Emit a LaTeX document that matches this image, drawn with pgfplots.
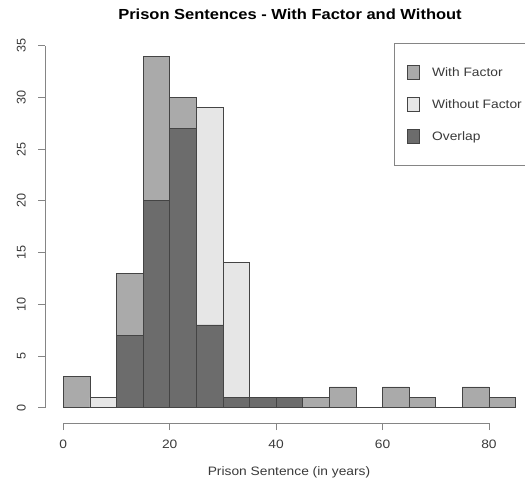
\documentclass[border=0pt]{standalone}
\usepackage{pgfplots}
\pgfplotsset{compat=1.18}
\usepackage{fontspec}
\setmainfont{Liberation Sans}[FakeStretch=1.13]
\newfontfamily\rotfont{Liberation Sans}
\definecolor{withc}{HTML}{AAAAAA}
\definecolor{withoutc}{HTML}{E6E6E6}
\definecolor{overc}{HTML}{6C6C6C}
\definecolor{edgec}{HTML}{444444}
\definecolor{axisc}{HTML}{858585}
\definecolor{textc}{HTML}{3A3A3A}
\newcommand\labfont{\fontsize{12.2bp}{14bp}\selectfont}
\pgfplotsset{
  rbar/.style={ybar, bar width=5, bar shift=0pt, draw=edgec, line width=0.8bp,
    legend image code/.code={\draw[##1, line width=0.8bp] (0bp,-7bp) rectangle (12bp,7bp);}},
}
\begin{document}
\begin{tikzpicture}
\path[use as bounding box] (0,0) rectangle (525bp,481bp);
\begin{axis}[
  at={(45bp,57.8bp)}, anchor=south west,
  scale only axis, width=480bp, height=391.5bp,
  xmin=-3.44, xmax=86.77, ymin=-1.5, ymax=36.35,
  axis lines*=left, axis line style={draw=none},
  clip=false,
  xtick={0,20,40,60,80}, ytick={0,5,...,35},
  tick align=outside, major tick length=7bp,
  tick style={draw=axisc, line width=0.8bp},
  /pgf/number format/assume math mode=true,
  ticklabel style={font=\labfont, text=textc, inner sep=0pt},
  xticklabel style={anchor=north, yshift=-10bp},
  yticklabel style={font=\rotfont\fontsize{12.6bp}{14bp}\selectfont, xshift=-12bp, rotate=90, anchor=south},
  title={Prison Sentences - With Factor and Without},
  title style={at={(axis description cs:0.5,1)}, anchor=base, inner sep=0pt, yshift=6bp, xshift=5bp,
    font=\bfseries\fontsize{14.6bp}{17bp}\selectfont, text=black},
  xlabel={Prison Sentence (in years)},
  xlabel style={at={(axis description cs:0.5,0)}, anchor=base, inner sep=0pt, yshift=-52bp, xshift=4bp,
    font=\labfont, text=textc},
  legend cell align=left,
  legend style={at={(0.727,0.971)}, anchor=north west, draw=axisc, line width=0.8bp, fill=white,
    inner xsep=13bp, inner ysep=22bp, row sep=17bp, column sep=12bp,
    font=\labfont, text=textc, nodes={inner sep=0pt}},
]
\addplot[rbar, fill=withc] coordinates {
  (2.5,3) (7.5,0) (12.5,13) (17.5,34) (22.5,30) (27.5,8) (32.5,1) (37.5,1) (42.5,1)
  (47.5,1) (52.5,2) (57.5,0) (62.5,2) (67.5,1) (72.5,0) (77.5,2) (82.5,1)};
\addlegendentry{With Factor}
\addplot[rbar, fill=withoutc] coordinates {
  (7.5,1) (12.5,7) (17.5,20) (22.5,27) (27.5,29) (32.5,14) (37.5,1) (42.5,1)};
\addlegendentry{Without Factor}
\addplot[rbar, fill=overc] coordinates {
  (12.5,7) (17.5,20) (22.5,27) (27.5,8) (32.5,1) (37.5,1) (42.5,1)};
\addlegendentry{Overlap}
\draw[axisc, line width=0.8bp] (axis cs:0,-1.5) -- (axis cs:80,-1.5);
\draw[axisc, line width=0.8bp] (axis cs:-3.44,0) -- (axis cs:-3.44,35);
\end{axis}
\end{tikzpicture}
\end{document}
